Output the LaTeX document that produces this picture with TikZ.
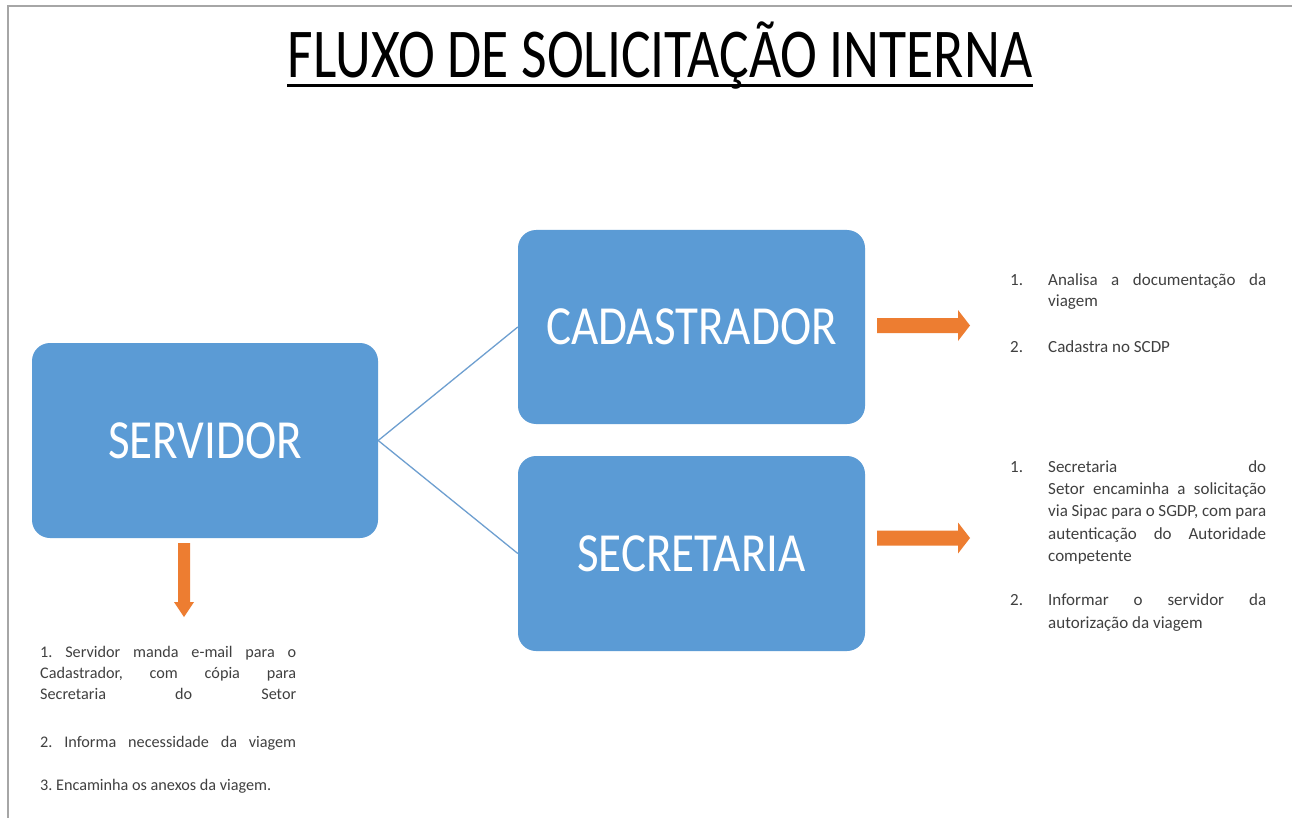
\documentclass[tikz,border=0pt]{standalone}
\usepackage{fontspec}
\setmainfont{Carlito}
\frenchspacing
\definecolor{boxblue}{HTML}{5B9BD5}
\definecolor{arroworange}{HTML}{ED7D31}
\definecolor{txtgray}{HTML}{404040}
\definecolor{framegray}{HTML}{A6A6A6}
\definecolor{linkblue}{HTML}{6E9FD0}
\tikzset{
  box/.style={fill=boxblue, rounded corners=18pt, draw=none, text=white,
    font=\fontsize{48}{48}\selectfont, inner sep=0pt},
  link/.style={draw=linkblue, line width=1.3pt},
  blockarrow/.style={fill=arroworange, draw=none},
  listtext/.style={inner sep=0pt, text=txtgray, font=\fontsize{17}{21.5}\selectfont, anchor=base west},
}
\newcommand{\jline}[2]{\makebox[#1][s]{#2}}
\newcommand{\numl}[1]{\makebox[38pt][l]{#1}}
\newcommand{\indl}{\hspace*{38pt}}
\newcommand{\tall}[1]{\scalebox{0.98}[1.15]{#1}}
\begin{document}
\begin{tikzpicture}[x=1pt,y=-1pt]
\useasboundingbox (0,0) rectangle (1292,818);
\fill[white] (0,0) rectangle (1292,818);
\draw[framegray, line width=2pt] (8,818) -- (8,6) -- (1292,6);

% title
\node[inner sep=0pt, anchor=base] (title) at (660,78)
  {\scalebox{0.794}[1]{\fontsize{70}{70}\selectfont FLUXO DE SOLICITAÇÃO INTERNA}};
\draw[line width=3pt] ([yshift=-8pt]title.base west) -- ([yshift=-8pt]title.base east);

% boxes
\node[box, minimum width=346pt, minimum height=195pt] (serv) at (205,440.5) {\tall{SERVIDOR}};
\node[box, minimum width=347pt, minimum height=194pt] (cad) at (691.5,327) {\tall{CADASTRADOR}};
\node[box, minimum width=347pt, minimum height=195pt] (sec) at (691.5,553.5) {\tall{SECRETARIA}};

% connectors
\draw[link] (serv.east) -- (cad.west);
\draw[link] (serv.east) -- (sec.west);

% orange block arrows
\fill[blockarrow] (877,318) -- (958,318) -- (958,310) -- (970,325.5) -- (958,341) -- (958,333) -- (877,333) -- cycle;
\fill[blockarrow] (877,530.5) -- (958,530.5) -- (958,522.5) -- (970,538) -- (958,553.5) -- (958,545.5) -- (877,545.5) -- cycle;
\fill[blockarrow] (178,543) -- (190,543) -- (190,602) -- (194,602) -- (184,617) -- (174,602) -- (178,602) -- cycle;

% lists
\node[listtext] (cadlist) at (1010,285) {\parbox[t]{256pt}{%
\numl{1.}\jline{218pt}{Analisa a documentação da}\\
\indl viagem\\[24.5pt]
\numl{2.}Cadastra no SCDP}};

\node[listtext] (seclist) at (1010,472) {\parbox[t]{256pt}{\fontsize{17}{22.4}\selectfont
\numl{1.}\jline{218pt}{Secretaria do}\\
\indl\jline{218pt}{Setor encaminha a solicitação}\\
\indl\jline{218pt}{via Sipac para o SGDP, com para}\\
\indl\jline{218pt}{autenticação do Autoridade}\\
\indl competente\\[21.6pt]
\numl{2.}\jline{218pt}{Informar o servidor da}\\
\indl autorização da viagem}};

\node[listtext] (servlist) at (40,657) {\parbox[t]{256pt}{\fontsize{16.2}{21}\selectfont
\jline{256pt}{1. Servidor manda e-mail para o}\\
\jline{256pt}{Cadastrador, com cópia para}\\
\jline{256pt}{Secretaria do Setor}\\[27pt]
\jline{256pt}{2. Informa necessidade da viagem}\\[22pt]
3. Encaminha os anexos da viagem.}};
\end{tikzpicture}
\end{document}
